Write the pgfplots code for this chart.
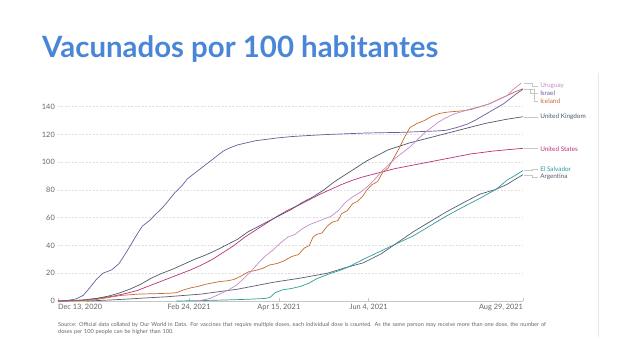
\documentclass[border=0pt]{standalone}
\usepackage{pgfplots}
\pgfplotsset{compat=1.18}
\usepackage{fontspec}
\setmainfont{Lato}
\definecolor{titleblue}{HTML}{4A86D8}
\definecolor{cIsrael}{HTML}{6E5A9E}
\definecolor{cUruguay}{HTML}{C58CC8}
\definecolor{cIceland}{HTML}{C8692D}
\definecolor{cUK}{HTML}{4A5A6E}
\definecolor{cUS}{HTML}{C0307A}
\definecolor{cSV}{HTML}{2E9E9A}
\definecolor{cAR}{HTML}{5C5A72}
\definecolor{txtgray}{HTML}{666666}
\begin{document}
\begin{tikzpicture}
\useasboundingbox[fill=white] (0,0) rectangle (638bp,359bp);
\node[anchor=base west, inner sep=0pt, text=titleblue, font=\fontsize{29.5}{31}\selectfont\bfseries] at (42bp,301bp) {Vacunados por 100 habitantes};
\draw[gray!18, line width=0.8pt] (598bp,22bp) -- (598bp,286bp);
\begin{axis}[
  at={(58bp,58bp)}, anchor=south west,
  scale only axis, width=465bp, height=222bp,
  xmin=0, xmax=259, ymin=0, ymax=160,
  clip=false,
  axis x line*=bottom, axis y line*=left,
  x axis line style={draw=gray!45, line width=0.5pt, -},
  y axis line style={draw=none},
  xtick={0,73,123,173,259},
  xticklabels={{\makebox[0pt][l]{Dec 13, 2020}},{Feb 24, 2021},{Apr 15, 2021},{Jun 4, 2021},{\makebox[0pt][r]{Aug 29, 2021}}},
  ytick={0,20,40,60,80,100,120,140},
  ymajorgrids, grid style={gray!25, dash pattern=on 2pt off 1.5pt, line width=0.5pt},
  xtick style={draw=gray!45, line width=0.4pt},
  major tick length=2.5bp,
  ytick style={draw=none},
  tick label style={text=txtgray, font=\fontsize{7.4}{8}\selectfont},
  /pgf/number format/assume math mode=true,
  yticklabel style={anchor=east, inner sep=0pt, xshift=-3bp},
  xticklabel style={anchor=north, inner sep=0pt, yshift=-3bp},
  every axis plot/.append style={line width=0.7pt, no markers},
]
% Argentina
\addplot[cAR] coordinates {(16,0)(20,0.2)(30,0.8)(40,1.5)(50,2.3)(60,3)(70,4)(80,5)(90,6.8)(100,8.5)(110,11)(120,13.5)(135,16.5)(150,20)(160,24)(170,27.5)(180,34)(189,42)(198,50)(207,57)(216,64)(226,71)(235,77)(244,80.5)(250,84)(255,88)(259,91)};
% El Salvador
\addplot[cSV] coordinates {(66,0)(80,0.3)(95,0.8)(105,1.2)(115,1.8)(118,2.5)(121,6)(125,8)(130,9)(135,10.5)(140,13)(144,16)(148,18)(152,20)(157,22)(162,24.7)(170,30)(179,35.5)(188,41)(198,47)(207,54)(216,61)(226,68)(235,74)(244,80.5)(250,87)(254,90)(259,94)};
% United States
\addplot[cUS] coordinates {(0,0)(8,0.1)(14,0.5)(20,1.5)(26,2.5)(32,3.8)(38,5.5)(44,7.5)(50,10.5)(56,13.5)(62,16.5)(68,19.5)(74,22.5)(80,26)(86,30)(92,35)(98,40)(104,46)(110,51)(116,56)(122,61)(128,65.5)(134,69)(140,73)(146,77)(152,80.5)(158,84)(164,87)(170,89.5)(176,91.5)(182,93.5)(188,95.5)(194,97)(200,98.5)(206,100)(212,101.5)(218,103)(224,104.5)(230,106)(236,107)(242,108)(250,109)(259,110)};
% United Kingdom
\addplot[cUK] coordinates {(0,0)(5,0.2)(10,0.5)(16,1)(22,2)(28,3.5)(34,5.7)(40,8.5)(46,12)(52,16.5)(58,20)(64,23)(70,26.5)(76,30)(82,33)(88,36.5)(94,40.5)(100,44.5)(106,50)(112,54)(118,58)(124,62)(130,66)(136,71)(142,75)(148,80)(154,86)(160,91)(166,96)(172,101)(178,105)(184,109)(190,111.5)(196,114)(202,116)(208,118)(214,120)(220,122)(226,124)(232,126)(238,128)(244,129.5)(250,131)(259,132.8)};
% Iceland
\addplot[cIceland] coordinates {(0,0)(14,0.3)(21,1)(28,2.5)(35,4)(40,4.5)(45,5)(55,5.3)(62,5.6)(66,6)(70,8)(74,9.5)(78,10.5)(82,12)(86,13)(90,14)(94,14.5)(98,15.5)(102,18)(106,21)(110,22)(114,23.5)(118,26)(122,27)(126,29)(130,32)(134,33.5)(137,38)(140,40)(142,46)(144,48)(147,49)(150,54)(153,57)(156,58)(158,63)(161,65)(164,70)(167,72)(170,76)(172,80)(175,84)(178,86)(181,93)(184,96)(187,103)(190,110)(193,118)(196,125)(200,128)(204,130)(208,133)(212,135)(216,136)(220,136.5)(225,137)(230,138)(235,140)(240,142)(245,145)(250,148)(255,151)(259,153)};
% Israel
\addplot[cIsrael] coordinates {(0,0)(5,0.3)(10,1.5)(14,4)(18,10)(21,15)(25,20)(30,22.5)(34,27)(38,35)(41,41.5)(44,48)(47,54)(51,58)(54,62)(58,67)(61,71.5)(65,78)(69,83)(72,88)(76,92)(80,96)(84,100)(88,104)(92,108)(95,110)(100,112.5)(105,114)(110,115.5)(116,116.5)(122,117.5)(130,118.5)(140,119.3)(150,120)(160,120.5)(170,121)(180,121.3)(190,121.5)(200,122)(210,122.5)(216,123)(222,125)(228,127.5)(232,130)(236,133)(240,136)(244,139)(248,142)(252,146)(256,150)(259,152.5)};
% Uruguay
\addplot[cUruguay] coordinates {(77,0)(80,0.5)(85,2)(90,5)(95,8)(100,12)(104,17)(108,22)(112,28)(116,33)(120,37)(124,42)(128,46)(132,48)(136,52)(140,55)(144,57)(148,59)(152,61)(156,65)(160,71)(164,75)(168,78)(172,82)(176,87)(180,93)(184,98)(188,103)(192,107)(196,111)(200,116)(204,121)(208,125)(212,129)(216,132)(220,134.5)(225,136.5)(230,138.5)(235,140)(240,142)(245,145)(250,148)(254,153)(258,157)};
% connectors and labels
\begin{scope}[gray!45, line width=0.4pt]
\draw (axis cs:259.5,157) -- (axis cs:264,157) -- (axis cs:264,155) -- (axis cs:267.5,155);
\draw (axis cs:259.5,152.5) -- (axis cs:263,152.5) -- (axis cs:263,150) -- (axis cs:267.5,150);
\draw (axis cs:259.5,153) -- (axis cs:265,153) -- (axis cs:265,144) -- (axis cs:267.5,144);
\draw (axis cs:259.5,132.8) -- (axis cs:267.5,132.8);
\draw (axis cs:259.5,110) -- (axis cs:267.5,110);
\draw (axis cs:259.5,94) -- (axis cs:264,94) -- (axis cs:264,95) -- (axis cs:267.5,95);
\draw (axis cs:259.5,91) -- (axis cs:264,91) -- (axis cs:264,89.3) -- (axis cs:267.5,89.3);
\end{scope}
\begin{scope}[every node/.style={anchor=west, inner sep=0pt, font=\fontsize{6.4}{7}\selectfont}]
\node[text=cUruguay] at (axis cs:268.5,155) {Uruguay};
\node[text=cIsrael] at (axis cs:268.5,150) {Israel};
\node[text=cIceland] at (axis cs:268.5,144) {Iceland};
\node[text=cUK] at (axis cs:268.5,132.8) {United Kingdom};
\node[text=cUS] at (axis cs:268.5,109.5) {United States};
\node[text=cSV] at (axis cs:268.5,95) {El Salvador};
\node[text=cAR] at (axis cs:268.5,89.3) {Argentina};
\end{scope}
\end{axis}
\node[anchor=north west, inner sep=0pt, text=txtgray, text width=498bp, align=left, font=\fontsize{5.6}{6.8}\selectfont] at (58bp,37bp) {Source: Official data collated by Our World in Data. For vaccines that require multiple doses, each individual dose is counted. As the same person may receive more than one dose, the number of doses per 100 people can be higher than 100.};
\end{tikzpicture}
\end{document}
